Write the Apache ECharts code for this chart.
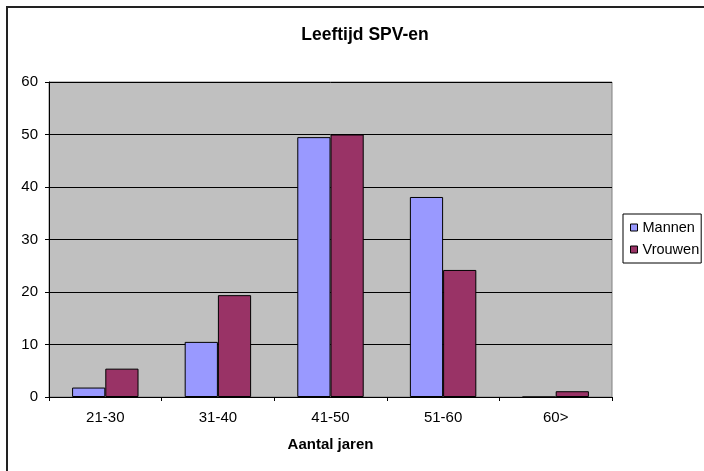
<!DOCTYPE html>
<html>
<head>
<meta charset="utf-8">
<script src="https://cdn.jsdelivr.net/npm/echarts@6/dist/echarts.min.js"></script>
<style>
  html, body { margin: 0; padding: 0; background: #fff; }
  #chart { width: 704px; height: 471px; }
</style>
</head>
<body>
<div id="chart"></div>
<script>
// leeftijdsklassen en aantallen
var categories = ['21-30', '31-40', '41-50', '51-60', '60>'];
var mannen = [1.8, 10.5, 49.5, 38.1, 0];
var vrouwen = [5.4, 19.4, 50.0, 24.2, 1.1];

var font = '"Liberation Sans", Arial, sans-serif';

var chart = echarts.init(document.getElementById('chart'));

var option = {
    backgroundColor: '#fff',
    animation: false,
    title: {
        text: 'Leeftijd SPV-en',
        left: 360,
        textAlign: 'center',
        top: 21,
        textStyle: {
            fontFamily: font,
            fontSize: 17.5,
            fontWeight: 'bold',
            color: '#000'
        }
    },
    graphic: [{
        type: 'rect',
        shape: { x: 7, y: 7, width: 720, height: 480 },
        style: { fill: 'none', stroke: '#222', lineWidth: 2 },
        silent: true
    }],
    legend: {
        orient: 'vertical',
        left: 623,
        top: 214,
        padding: [6, 2, 6, 7],
        itemGap: 7,
        itemWidth: 7,
        itemHeight: 7,
        icon: 'rect',
        borderColor: '#000',
        borderWidth: 1,
        itemStyle: { borderColor: '#000', borderWidth: 1 },
        textStyle: {
            fontFamily: font,
            fontSize: 14.5,
            color: '#000'
        },
        data: ['Mannen', 'Vrouwen']
    },
    grid: {
        left: 49,
        right: 92,
        top: 82,
        bottom: 74,
        show: true,
        backgroundColor: '#C0C0C0',
        borderColor: '#808080',
        borderWidth: 1
    },
    xAxis: {
        type: 'category',
        data: categories,
        name: 'Aantal jaren',
        nameLocation: 'middle',
        nameGap: 40,
        nameTextStyle: {
            fontFamily: font,
            fontSize: 15,
            fontWeight: 'bold',
            color: '#000'
        },
        axisLine: { lineStyle: { color: '#000', width: 1 } },
        axisTick: { show: true, length: 4, lineStyle: { color: '#000' } },
        axisLabel: {
            fontFamily: font,
            fontSize: 15,
            color: '#000',
            margin: 13
        }
    },
    yAxis: {
        type: 'value',
        min: 0,
        max: 60,
        interval: 10,
        axisLine: { show: true, lineStyle: { color: '#000', width: 1 } },
        axisTick: { show: true, length: 4, lineStyle: { color: '#000' } },
        axisLabel: {
            fontFamily: font,
            fontSize: 15,
            color: '#000',
            margin: 11
        },
        splitLine: { show: true, lineStyle: { color: '#000', width: 1 } }
    },
    series: [{
        name: 'Mannen',
        type: 'bar',
        data: mannen,
        barGap: '0%',
        barCategoryGap: '41%',
        itemStyle: {
            color: '#9999FF',
            borderColor: '#000',
            borderWidth: 1
        }
    }, {
        name: 'Vrouwen',
        type: 'bar',
        data: vrouwen,
        barGap: '0%',
        barCategoryGap: '41%',
        itemStyle: {
            color: '#993366',
            borderColor: '#000',
            borderWidth: 1
        }
    }]
};

chart.setOption(option);
</script>
</body>
</html>
